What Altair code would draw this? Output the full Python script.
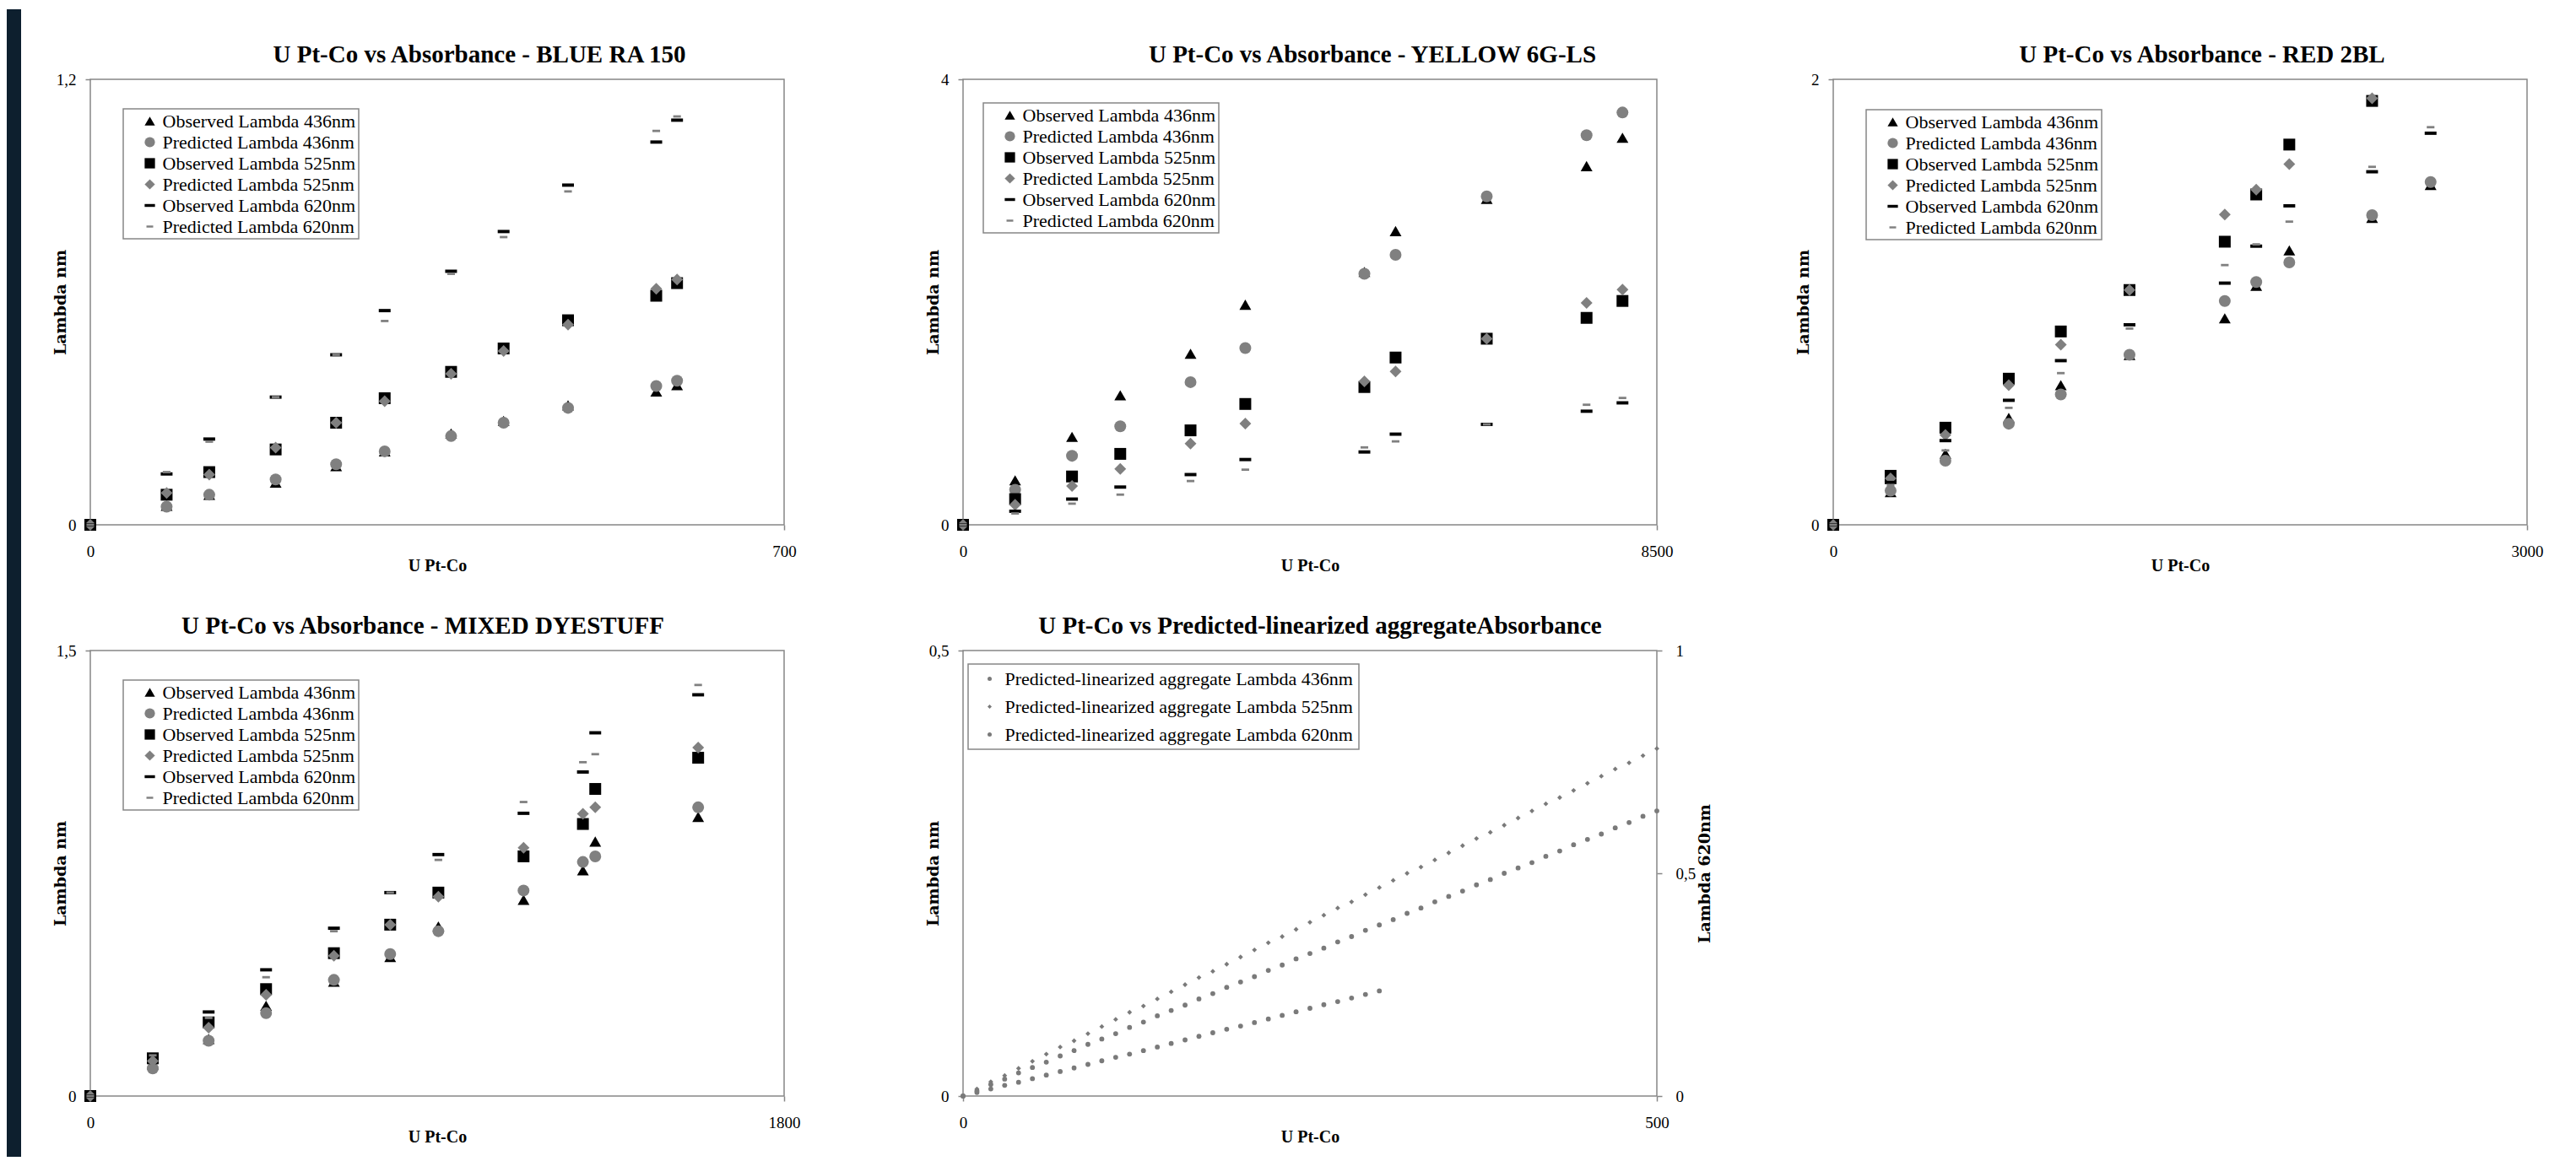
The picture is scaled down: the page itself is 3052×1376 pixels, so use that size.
import altair as alt
import pandas as pd

# ---------------- data ----------------
SERIES = ["Observed Lambda 436nm", "Predicted Lambda 436nm",
          "Observed Lambda 525nm", "Predicted Lambda 525nm",
          "Observed Lambda 620nm", "Predicted Lambda 620nm"]

blue_x = [0, 77, 120, 187, 248, 297, 364, 417, 482, 571, 592]
blue_obs436 = [0, 0.051, 0.081, 0.114, 0.158, 0.198, 0.246, 0.280, 0.322, 0.359, 0.376]
blue_pred436 = [0, 0.049, 0.081, 0.122, 0.163, 0.198, 0.239, 0.275, 0.315, 0.374, 0.388]
blue_obs525 = [0, 0.081, 0.142, 0.203, 0.275, 0.341, 0.412, 0.475, 0.551, 0.617, 0.651]
blue_pred525 = [0, 0.086, 0.135, 0.208, 0.275, 0.333, 0.407, 0.468, 0.539, 0.636, 0.661]
blue_obs620 = [0, 0.137, 0.231, 0.344, 0.458, 0.577, 0.683, 0.790, 0.915, 1.031, 1.090]
blue_pred620 = [0, 0.142, 0.224, 0.344, 0.458, 0.549, 0.676, 0.775, 0.898, 1.061, 1.100]

yellow_x = [0, 638, 1335, 1926, 2787, 3458, 4917, 5299, 6416, 7639, 8079]
yellow_obs436 = [0, 0.400, 0.790, 1.163, 1.536, 1.976, 2.271, 2.637, 2.926, 3.221, 3.475]
yellow_pred436 = [0, 0.315, 0.620, 0.885, 1.281, 1.587, 2.254, 2.424, 2.949, 3.498, 3.702]
yellow_obs525 = [0, 0.231, 0.434, 0.637, 0.848, 1.085, 1.237, 1.502, 1.671, 1.858, 2.010]
yellow_pred525 = [0, 0.180, 0.349, 0.502, 0.729, 0.909, 1.288, 1.376, 1.671, 1.993, 2.112]
yellow_obs620 = [0, 0.122, 0.231, 0.339, 0.451, 0.586, 0.654, 0.814, 0.902, 1.020, 1.095]
yellow_pred620 = [0, 0.102, 0.190, 0.271, 0.393, 0.495, 0.695, 0.749, 0.902, 1.078, 1.139]

red_x = [0, 248, 485, 759, 984, 1281, 1693, 1829, 1972, 2330, 2583]
red_obs436 = [0, 0.147, 0.319, 0.480, 0.627, 0.763, 0.927, 1.073, 1.232, 1.378, 1.526]
red_pred436 = [0, 0.153, 0.288, 0.454, 0.585, 0.763, 1.005, 1.090, 1.178, 1.390, 1.539]
red_obs525 = [0, 0.220, 0.436, 0.656, 0.868, 1.054, 1.271, 1.483, 1.707, 1.903, None]
red_pred525 = [0, 0.208, 0.403, 0.627, 0.809, 1.054, 1.393, 1.505, 1.619, 1.915, None]
red_obs620 = [0, 0.190, 0.378, 0.559, 0.737, 0.898, 1.085, 1.251, 1.432, 1.585, 1.758]
red_pred620 = [0, 0.178, 0.334, 0.525, 0.681, 0.881, 1.166, 1.259, 1.361, 1.607, 1.785]

mixed_x = [0, 162, 307, 456, 632, 778, 903, 1124, 1278, 1310, 1577]
mixed_obs436 = [0, 0.106, 0.192, 0.304, 0.385, 0.468, 0.571, 0.661, 0.760, 0.857, 0.940]
mixed_pred436 = [0, 0.093, 0.186, 0.279, 0.391, 0.478, 0.555, 0.692, 0.788, 0.807, 0.972]
mixed_obs525 = [0, 0.127, 0.248, 0.360, 0.481, 0.577, 0.685, 0.807, 0.916, 1.034, 1.139]
mixed_pred525 = [0, 0.118, 0.230, 0.341, 0.472, 0.577, 0.671, 0.836, 0.950, 0.972, 1.173]
mixed_obs620 = [0, 0.139, 0.283, 0.425, 0.565, 0.685, 0.813, 0.952, 1.091, 1.223, 1.351]
mixed_pred620 = [0, 0.137, 0.263, 0.400, 0.555, 0.685, 0.795, 0.990, 1.124, 1.151, 1.384]

AGG_SERIES = ["Predicted-linearized aggregate Lambda 436nm",
              "Predicted-linearized aggregate Lambda 525nm",
              "Predicted-linearized aggregate Lambda 620nm"]
agg_x = [0, 10, 20, 30, 40, 50, 60, 70, 80, 90, 100, 110, 120, 130, 140, 150, 160,
         170, 180, 190, 200, 210, 220, 230, 240, 250, 260, 270, 280, 290, 300, 310,
         320, 330, 340, 350, 360, 370, 380, 390, 400, 410, 420, 430, 440, 450, 460,
         470, 480, 490, 500]
agg436 = [0, .006, .013, .019, .026, .032, .038, .045, .051, .058, .064, .070, .077,
          .083, .090, .096, .102, .109, .115, .122, .128, .134, .141, .147, .154, .160,
          .166, .173, .179, .186, .192, .198, .205, .211, .218, .224, .230, .237, .243,
          .250, .256, .262, .269, .275, .282, .288, .294, .301, .307, .314, .320]
agg525 = [0, .008, .016, .023, .031, .039, .047, .055, .062, .070, .078, .086, .094,
          .101, .109, .117, .125, .133, .140, .148, .156, .164, .172, .179, .187, .195,
          .203, .211, .218, .226, .234, .242, .250, .257, .265, .273, .281, .289, .296,
          .304, .312, .320, .328, .335, .343, .351, .359, .367, .374, .382, .390]
agg620 = [0, .008, .016, .024, .031, .039, .047, .055, .063, .071, .079, .087, .094,
          .102, .110, .118, .126, .134, .142, .150, .157, .165, .173, .181, .189, .197,
          .205, .212, .220, .228, .236]

# ---------------- styling ----------------
SERIF = "Liberation Serif"
FRAME = "#878787"
GREY = "#808080"
COLORS = ["#000000", GREY, "#000000", GREY, "#000000", GREY]
SHAPES = ["triangle-up", "circle", "square", "diamond",
          "M-1,-0.28H1V0.28H-1Z", "M-0.65,-0.2H0.65V0.2H-0.65Z"]
W, H = 822, 528
COMMA = "replace(toString(datum.value), '.', ',')"
NB = "\u00a0"


def scatter_panel(title, dx, xs, cols, xmax, ymax, lx, ly):
    rows = []
    for name, vals in zip(SERIES, cols):
        for xv, yv in zip(xs, vals):
            if yv is not None:
                rows.append({"x": xv, "y": yv, "series": name})
    df = pd.DataFrame(rows)
    df["k"] = range(len(df))
    legend = alt.Legend(title=None, orient="none", legendX=lx, legendY=ly,
                        padding=3.5, symbolOffset=17, labelOffset=4, rowPadding=3,
                        symbolSize=150, symbolStrokeWidth=0,
                        strokeColor=FRAME, fillColor="white",
                        labelFont=SERIF, labelFontSize=22, labelColor="black",
                        labelLimit=800,
                        labelExpr="datum.label + '" + NB * 3 + "'")
    return alt.Chart(df, title=alt.TitleParams(title, dx=dx)).mark_point(
        filled=True, opacity=1, size=196, strokeWidth=0
    ).encode(
        x=alt.X("x:Q", scale=alt.Scale(domain=[0, xmax], nice=False),
                axis=alt.Axis(values=[0, xmax], title="U Pt-Co", format="d")),
        y=alt.Y("y:Q", scale=alt.Scale(domain=[0, ymax], nice=False),
                axis=alt.Axis(values=[0, ymax], title="Lambda nm", labelExpr=COMMA)),
        color=alt.Color("series:N", scale=alt.Scale(domain=SERIES, range=COLORS),
                        legend=legend),
        shape=alt.Shape("series:N", scale=alt.Scale(domain=SERIES, range=SHAPES),
                        legend=legend),
        order=alt.Order("k:Q"),
    ).properties(width=W, height=H)


p1 = scatter_panel("U Pt-Co vs Absorbance - BLUE RA 150", 50, blue_x,
                   [blue_obs436, blue_pred436, blue_obs525, blue_pred525, blue_obs620, blue_pred620],
                   700, 1.2, 39, 35)
p2 = scatter_panel("U Pt-Co vs Absorbance - YELLOW 6G-LS", 74, yellow_x,
                   [yellow_obs436, yellow_pred436, yellow_obs525, yellow_pred525, yellow_obs620, yellow_pred620],
                   8500, 4, 24, 28)
p3 = scatter_panel("U Pt-Co vs Absorbance - RED 2BL", 26, red_x,
                   [red_obs436, red_pred436, red_obs525, red_pred525, red_obs620, red_pred620],
                   3000, 2, 39, 36)
p4 = scatter_panel("U Pt-Co vs Absorbance - MIXED DYESTUFF", -17, mixed_x,
                   [mixed_obs436, mixed_pred436, mixed_obs525, mixed_pred525, mixed_obs620, mixed_pred620],
                   1800, 1.5, 39, 35)

# panel 5: dual axis
rows_l = []
for name, vals in [(AGG_SERIES[0], agg436), (AGG_SERIES[1], agg525)]:
    for xv, yv in zip(agg_x, vals):
        rows_l.append({"x": xv, "y": yv, "series": name})
rows_r = [{"x": xv, "y": yv, "series": AGG_SERIES[2]} for xv, yv in zip(agg_x, agg620)]
df_l = pd.DataFrame(rows_l)
df_r = pd.DataFrame(rows_r)

leg5 = alt.Legend(title=None, orient="none", legendX=6, legendY=16,
                  padding=6.5, symbolOffset=8, labelOffset=7, rowPadding=11,
                  symbolSize=25, symbolStrokeWidth=0,
                  strokeColor=FRAME, fillColor="white",
                  labelFont=SERIF, labelFontSize=22, labelColor="black", labelLimit=800)
color5 = alt.Color("series:N", scale=alt.Scale(domain=AGG_SERIES, range=["#7a7a7a"] * 3),
                   legend=leg5)
shape5 = alt.Shape("series:N", scale=alt.Scale(domain=AGG_SERIES,
                                               range=["circle", "diamond", "circle"]),
                   legend=leg5)
x5 = alt.X("x:Q", scale=alt.Scale(domain=[0, 500], nice=False),
           axis=alt.Axis(values=[0, 500], title="U Pt-Co", format="d"))

left5 = alt.Chart(df_l).mark_point(filled=True, opacity=1, size=34, strokeWidth=0).encode(
    x=x5,
    y=alt.Y("y:Q", scale=alt.Scale(domain=[0, 0.5], nice=False),
            axis=alt.Axis(values=[0, 0.5], title="Lambda nm", labelExpr=COMMA)),
    color=color5, shape=shape5)
right5 = alt.Chart(df_r).mark_point(filled=True, opacity=1, size=34, strokeWidth=0).encode(
    x=x5,
    y=alt.Y("y:Q", scale=alt.Scale(domain=[0, 1], nice=False),
            axis=alt.Axis(orient="right", values=[0, 0.5, 1], title="Lambda 620nm",
                          labelExpr=COMMA, labelPadding=16, titleX=56, titleY=H / 2,
                          titleAngle=270, titleBaseline="middle")),
    color=color5, shape=shape5)
p5 = alt.layer(left5, right5).resolve_scale(y="independent").properties(
    width=W, height=H,
    title=alt.TitleParams("U Pt-Co vs Predicted-linearized aggregateAbsorbance", dx=12))


def indep(c):
    return c.resolve_scale(color="independent", shape="independent").resolve_legend(
        color="independent", shape="independent")


# ---------------- layout ----------------
one = pd.DataFrame({"v": [0]})
BAR_W, BAR_H = 17, 1360
bar = alt.Chart(one).mark_rect(color="#0d1f2e").encode(
    x=alt.value(0), x2=alt.value(BAR_W), y=alt.value(0), y2=alt.value(BAR_H)
).properties(width=BAR_W, height=BAR_H, view=alt.ViewBackground(strokeWidth=0))
spacer = alt.Chart(one).mark_point(opacity=0).encode(
    x=alt.value(0), y=alt.value(0)
).properties(width=10, height=39, view=alt.ViewBackground(strokeWidth=0))

row1 = indep(alt.hconcat(indep(alt.hconcat(p1, p2, spacing=151)), p3, spacing=143))
row2 = indep(alt.hconcat(p4, p5, spacing=146))
main = indep(alt.vconcat(spacer, indep(alt.vconcat(row1, row2, spacing=46)), spacing=0))

chart = indep(alt.hconcat(bar, main, spacing=36)).properties(
    padding=0, background="white"
).configure_view(
    stroke=FRAME, strokeWidth=1.5
).configure_axis(
    domain=False, grid=False, ticks=True, tickColor=FRAME, tickWidth=1.5, tickSize=6,
    labelFont=SERIF, labelFontSize=19, labelColor="black",
    labelFlush=False, labelOverlap=False, titleColor="black"
).configure_axisX(
    labelPadding=16, titleFont=SERIF, titleFontSize=20, titleFontWeight="bold",
    titleY=54, titleBaseline="alphabetic"
).configure_axisY(
    labelPadding=11, titleFont="DejaVu Serif", titleFontSize=19, titleFontWeight="bold",
    titleX=-36, titleY=H / 2, titleAngle=270, titleBaseline="middle"
).configure_legend(
    strokeWidth=1.5
).configure_title(
    font=SERIF, fontSize=29, fontWeight="bold", color="black", anchor="middle",
    offset=5, baseline="alphabetic", frame="group"
)

chart.save("out.html", embed_options={"renderer": "svg", "actions": False})
